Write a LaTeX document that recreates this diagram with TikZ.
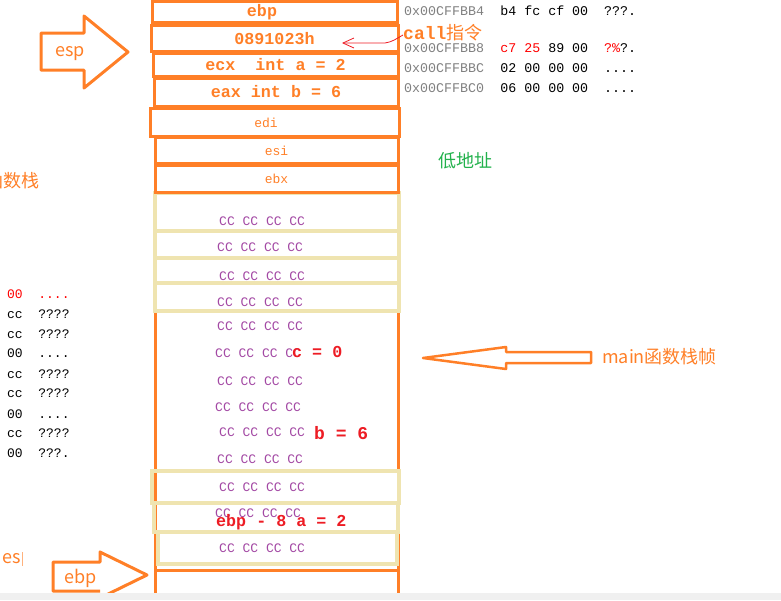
\documentclass[tikz,border=0pt]{standalone}
\usepackage{fontspec}
\setmonofont{Liberation Mono}
\newfontfamily\cjk{Noto Sans CJK SC}
\usetikzlibrary{arrows.meta, positioning}
\definecolor{PaintOrange}{HTML}{FF7F27}
\definecolor{PaintTan}{HTML}{EFE4B0}
\definecolor{PaintPurple}{HTML}{A349A4}
\definecolor{PaintRed}{HTML}{ED1C24}
\definecolor{PaintGreen}{HTML}{22B14C}
\definecolor{AddrGray}{HTML}{808080}
\definecolor{BarGray}{HTML}{F0F0F0}
\newcommand{\memq}{????}
\newcommand{\memd}{....}
\newcommand{\meme}{???.}

\begin{document}
\begin{tikzpicture}[x=1pt, y=-1pt,
  slot/.style={draw=PaintOrange, line width=3pt, inner sep=0pt, text=PaintOrange,
    font=\fontsize{16.7}{17}\ttfamily\bfseries},
  reg/.style={slot, font=\fontsize{13}{13}\ttfamily},
  pad/.style={draw=PaintTan, line width=3.5pt},
  ptr/.style={draw=PaintOrange, line width=3pt, line join=round},
  cc/.style={anchor=west, inner sep=0pt, text=PaintPurple, font=\fontsize{13}{13}\ttfamily},
  var/.style={anchor=west, inner sep=0pt, text=PaintRed, font=\fontsize{16.7}{17}\ttfamily\bfseries},
  mem/.style={anchor=west, inner sep=0pt, font=\fontsize{13.3}{14}\ttfamily},
  addr/.style={mem, text=AddrGray},
  note/.style={inner sep=0pt, text=PaintOrange, font=\cjk\fontsize{18}{18}\selectfont},
  hand/.style={draw=PaintRed, line width=0.8pt, -{Straight Barb[length=11pt, width=10pt]}}
]
  \useasboundingbox (0,0) rectangle (781,600);

  % main frame
  \draw[ptr] (155,192) -- (398,192) (155,192) -- (155,593) (398,192) -- (398,593)
    (155,570) -- (398,570);
  \foreach \t/\b in {193/231, 231/258, 258/283, 283/311}
    \draw[pad] (155,\t) rectangle (399,\b);
  \draw[pad] (152,471) rectangle (399,503);
  \draw[pad] (154,503) rectangle (398,532);
  \draw[pad] (158,532) rectangle (397,564);

  % saved registers
  \node[slot, minimum width=245pt, minimum height=21pt] (sebp) at (275,12) {ebp\kern26pt};
  \node[slot, minimum width=247pt, minimum height=26pt] (sret) at (274.5,38.5) {0891023h};
  \node[slot, minimum width=245pt, minimum height=23pt] (secx) at (275.5,65) {ecx~~int a = 2};
  \node[slot, minimum width=244pt, minimum height=28pt] (seax) at (276,92) {eax int b = 6};
  \node[reg, minimum width=249pt, minimum height=28pt] (sedi) at (275,122.5) {edi\kern18pt};
  \node[reg, minimum width=243pt, minimum height=26pt] (sesi) at (276.5,150.5) {esi};
  \node[reg, minimum width=243pt, minimum height=27pt] (sebx) at (276.5,178.5) {ebx};

  \foreach \x/\y [count=\i] in {219/221, 217/247, 219/276, 217/302, 217/326, 215/353,
      217/381, 215/407, 219/432, 217/459, 219/487, 215/513, 219/548}
    \node[cc] (cc\i) at (\x,\y) {CC CC CC CC};

  \node[var] (varc) at (292,352) {c = 0};
  \node[var, font=\fontsize{18}{18}\ttfamily\bfseries] (varb) at (314,433) {b = 6};
  \node[var] (vara) at (216,522) {ebp - 8 a = 2};

  % memory window
  \node[addr] (a1) at (404,11) {0x00CFFBB4};
  \node[mem, right=16pt of a1] (b1) {b4 fc cf 00~~\meme};
  \node[addr] (a2) at (404,48) {0x00CFFBB8};
  \node[mem, right=16pt of a2] (b2) {{\color{red}c7 25} 89 00~~{\color{red}?\%}?.};
  \node[addr] (a3) at (404,68) {0x00CFFBBC};
  \node[mem, right=16pt of a3] (b3) {02 00 00 00~~\memd};
  \node[addr] (a4) at (404,88) {0x00CFFBC0};
  \node[mem, right=16pt of a4] (b4) {06 00 00 00~~\memd};

  \foreach \y/\h/\t [count=\i] in {314/cc/\memq, 334/cc/\memq, 353/00/\memd, 374/cc/\memq,
      393/cc/\memq, 414/00/\memd, 433/cc/\memq, 453/00/\meme}
    \node[mem, font=\fontsize{13}{13}\ttfamily] (m\i) at (7,\y) {\h~~\t};
  \node[mem, font=\fontsize{13}{13}\ttfamily, text=red] (m0) at (7,294) {00~~\memd};

  \node[note, anchor=west] (call) at (403,33)
    {{\ttfamily\bfseries\fontsize{18}{18}\selectfont call}指令};
  \coordinate (retaddr) at (342,43);
  \draw[hand] ([yshift=-2pt]call.west) .. controls (396,39) and (392,42) .. (385,43) -- (retaddr);

  \node[note, text=PaintGreen] (low) at (465,161) {低地址};
  \node[note, anchor=east] (frm) at (40,181) {函数栈};
  \node[note, anchor=east] (esl) at (21,559) {es};
  \draw[PaintOrange!60, line width=0.8pt] (22,552) -- (22,566);

  % pointers
  \draw[ptr] (41,33) -- (84,33) -- (84,16) -- (128,52) -- (84,88) -- (84,70) -- (41,70) -- cycle;
  \node[note] (esp) at (70,54) {esp};
  \draw[ptr] (100,591) -- (53,591) -- (53,562) -- (100,562) -- (100,552) -- (147,575) -- (100,598);
  \node[note] (ebp) at (81,578) {ebp};
  \draw[ptr, line width=2.5pt] (591,352) -- (506,352) -- (506,347) -- (423,358) -- (506,369)
    -- (506,363) -- (591,363) -- cycle;
  \node[note, anchor=west] (mainlbl) at (602,357) {main函数栈帧};

  \fill[BarGray] (0,593) rectangle (781,600);
\end{tikzpicture}
\end{document}
